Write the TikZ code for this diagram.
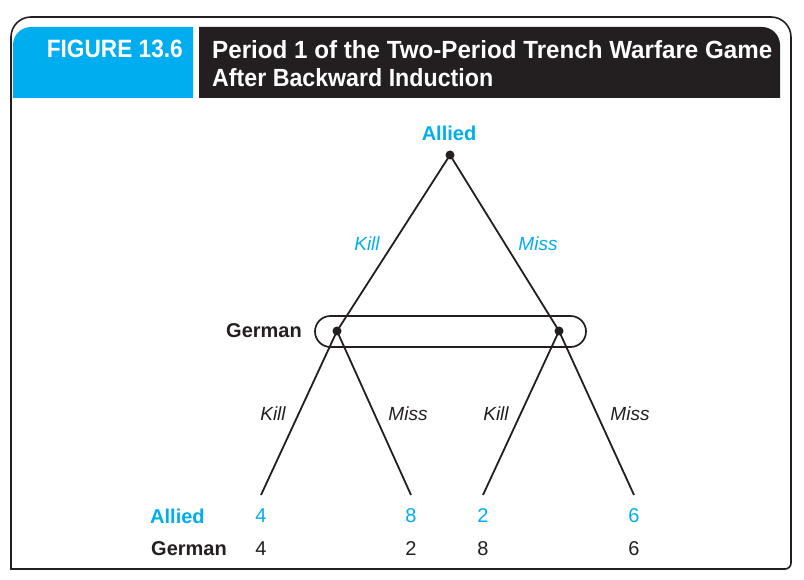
\documentclass[tikz,border=0pt]{standalone}
\usepackage{fontspec}
\setmainfont{Liberation Sans}
\usepackage{graphicx}
\definecolor{figblue}{HTML}{00AEEF}
\definecolor{figblack}{HTML}{231F20}
\begin{document}
\begin{tikzpicture}[x=1pt,y=1pt,
  treeline/.style={line width=1.8pt,figblack},
  dot/.style={circle,fill=figblack,inner sep=0pt,minimum size=9pt},
  player/.style={font=\fontsize{20}{24}\selectfont\bfseries,inner sep=0pt},
  movelab/.style={font=\fontsize{19}{23}\selectfont\itshape,inner sep=0pt},
  payoff/.style={font=\fontsize{20}{24}\selectfont,inner sep=0pt},
  hdr/.style={text=white,font=\bfseries,inner sep=0pt}]
\useasboundingbox (0,0) rectangle (804,-580);
% frame
\draw[line width=1.6pt,figblack] (11,-569) -- (11,-37) arc[start angle=180,end angle=90,radius=20] -- (771,-17) arc[start angle=90,end angle=0,radius=20] -- (791,-563) arc[start angle=0,end angle=-90,radius=6] -- cycle;
\draw[line width=2.8pt,figblack] (11,-569) -- (785,-569);
% header boxes
\fill[figblue] (13,-98) -- (13,-45) arc[start angle=180,end angle=90,radius=18] -- (193,-27) -- (193,-98) -- cycle;
\fill[figblack] (199,-98) -- (199,-27) -- (762,-27) arc[start angle=90,end angle=0,radius=18] -- (780,-98) -- cycle;
\node[hdr,anchor=base east] (fig) at (183,-58) {\resizebox{136pt}{17.5pt}{FIGURE 13.6}};
\node[hdr,anchor=base west] (t1) at (212,-58.5) {\resizebox{560pt}{18pt}{Period 1 of the Two-Period Trench Warfare Game}};
\node[hdr,anchor=base west] (t2) at (212,-86.5) {\resizebox{281pt}{18pt}{After Backward Induction}};
% tree nodes
\node[dot] (root) at (450,-155) {};
\node[dot] (gl) at (337,-331) {};
\node[dot] (gr) at (559,-331) {};
\coordinate (l1) at (261,-495);
\coordinate (l2) at (411,-495);
\coordinate (l3) at (483,-495);
\coordinate (l4) at (634,-495);
% information set
\draw[line width=1.7pt,figblack,rounded corners=15.5pt] (315,-316) rectangle (586,-347);
% branches
\draw[treeline] (root.center) -- (gl.center);
\draw[treeline] (root.center) -- (gr.center);
\draw[treeline] (gl.center) -- (l1);
\draw[treeline] (gl.center) -- (l2);
\draw[treeline] (gr.center) -- (l3);
\draw[treeline] (gr.center) -- (l4);
% labels
\node[player,text=figblue] (allied) at (449,-133) {Allied};
\node[player,text=figblack,anchor=east] (german) at (302,-331) {German};
\node[movelab,text=figblue] (k0) at (367,-244) {Kill};
\node[movelab,text=figblue] (m0) at (538,-244) {Miss};
\node[movelab,text=figblack] (k1) at (273,-414) {Kill};
\node[movelab,text=figblack] (m1) at (408,-414) {Miss};
\node[movelab,text=figblack] (k2) at (496,-414) {Kill};
\node[movelab,text=figblack] (m2) at (630,-414) {Miss};
% payoffs
\node[player,text=figblue,anchor=west] (pa) at (150,-516) {Allied};
\node[player,text=figblack,anchor=west] (pg) at (151,-549) {German};
\node[payoff,text=figblue] (a1) at (261,-516) {4};
\node[payoff,text=figblue] (a2) at (411,-516) {8};
\node[payoff,text=figblue] (a3) at (483,-516) {2};
\node[payoff,text=figblue] (a4) at (634,-516) {6};
\node[payoff,text=figblack] (g1) at (261,-549) {4};
\node[payoff,text=figblack] (g2) at (411,-549) {2};
\node[payoff,text=figblack] (g3) at (483,-549) {8};
\node[payoff,text=figblack] (g4) at (634,-549) {6};
\end{tikzpicture}
\end{document}
